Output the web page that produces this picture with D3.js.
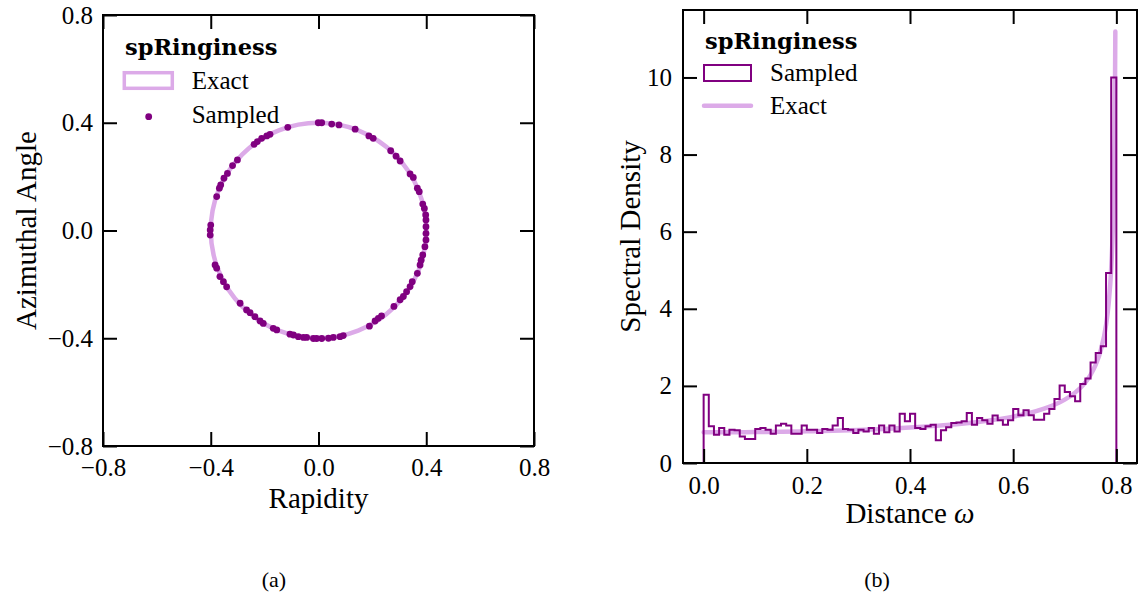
<!DOCTYPE html>
<html><head><meta charset="utf-8">
<script src="https://cdn.jsdelivr.net/npm/d3@7"></script>
<style>
html,body{margin:0;padding:0;background:#fff;}
svg{display:block;}
</style></head><body>
<svg id="chart" width="1138" height="594" font-family="Liberation Serif, Times New Roman, serif"></svg>
<script>
// ---------- data: panel (a) ----------
const rapidity = [-0.001,0.012,0.049,0.076,0.136,0.187,0.203,0.268,0.288,0.303,0.340,0.352,0.367,0.374,0.387,0.393,0.398,0.399,0.399,0.399,0.399,0.395,0.387,0.381,0.377,0.367,0.348,0.340,0.327,0.315,0.303,0.280,0.234,0.222,0.210,0.189,0.092,0.080,0.055,0.037,0.012,-0.007,-0.019,-0.044,-0.056,-0.075,-0.093,-0.106,-0.155,-0.168,-0.205,-0.217,-0.236,-0.254,-0.267,-0.291,-0.341,-0.353,-0.366,-0.378,-0.384,-0.400,-0.402,-0.402,-0.378,-0.368,-0.363,-0.351,-0.338,-0.319,-0.301,-0.239,-0.227,-0.211,-0.192,-0.180,-0.114];
const azimuth = [0.400,0.400,0.395,0.392,0.376,0.351,0.342,0.296,0.276,0.258,0.210,0.197,0.157,0.144,0.098,0.082,0.058,0.039,0.014,-0.011,-0.035,-0.060,-0.091,-0.110,-0.128,-0.159,-0.190,-0.208,-0.227,-0.245,-0.257,-0.282,-0.317,-0.326,-0.336,-0.355,-0.390,-0.394,-0.397,-0.400,-0.401,-0.401,-0.401,-0.397,-0.397,-0.394,-0.388,-0.385,-0.369,-0.363,-0.345,-0.336,-0.320,-0.305,-0.295,-0.270,-0.209,-0.190,-0.171,-0.140,-0.128,0.020,0.002,-0.017,0.126,0.157,0.169,0.194,0.212,0.241,0.262,0.320,0.330,0.342,0.351,0.357,0.383];
const ringRadius = 0.4;
const ticksA = [-0.8,-0.4,0.0,0.4,0.8];

// ---------- data: panel (b) ----------
const histValues = [1.77,0.95,0.73,0.91,0.73,0.86,0.85,0.69,0.62,0.62,
  0.88,0.91,0.86,0.76,0.97,1.02,0.97,0.76,0.76,0.97,
  0.86,0.86,0.78,0.88,0.86,0.97,1.17,0.88,0.86,0.78,
  0.86,0.82,0.91,0.76,0.97,0.80,0.97,0.82,1.28,1.08,
  1.28,0.91,0.88,0.95,0.99,0.59,0.85,0.93,1.04,1.05,
  1.08,1.30,0.99,1.17,1.11,1.02,1.23,1.11,0.99,1.11,
  1.40,1.24,1.37,1.24,1.12,1.12,1.28,1.40,1.66,2.01,
  1.84,1.73,1.60,2.05,2.19,2.61,2.85,3.03,4.93,10.0];
const histStart = 0.0, histBinWidth = 0.01;
const exactOmega   = [0,0.05,0.1,0.15,0.2,0.25,0.3,0.35,0.4,0.45,0.5,0.55,0.6,0.63,0.66,0.68,0.7,0.72,0.74,0.75,0.76,0.77,0.78,0.785,0.79,0.793,0.795,0.7965,0.7975,0.798];
const exactDensity = [0.796,0.797,0.802,0.810,0.822,0.838,0.858,0.885,0.919,0.963,1.019,1.096,1.203,1.291,1.408,1.511,1.644,1.826,2.094,2.287,2.549,2.934,3.581,4.129,5.049,6.029,7.129,8.511,10.07,11.19];
const ticksBx = [0.0,0.2,0.4,0.6,0.8];
const ticksBy = [0,2,4,6,8,10];

// ---------- style ----------
const PURPLE = "#800080", PLUM = "#dcaae8";
const TICK = 14, AXW = 2;
const FS_TICK = 25, FS_LEG = 25, FS_LAB = 29;
const svg = d3.select("#chart");

function frameAxes(g, x, y, w, h, xt, yt, xfmt, yfmt, xpad, ypad){
  const bx = g.append("g").attr("transform",`translate(0,${h})`)
    .call(d3.axisBottom(x).tickValues(xt).tickFormat(xfmt).tickSize(-TICK).tickSizeOuter(0).tickPadding(xpad));
  const tx = g.append("g")
    .call(d3.axisTop(x).tickValues(xt).tickFormat("").tickSize(-TICK).tickSizeOuter(0));
  const ly = g.append("g")
    .call(d3.axisLeft(y).tickValues(yt).tickFormat(yfmt).tickSize(-TICK).tickSizeOuter(0).tickPadding(ypad));
  const ry = g.append("g").attr("transform",`translate(${w},0)`)
    .call(d3.axisRight(y).tickValues(yt).tickFormat("").tickSize(-TICK).tickSizeOuter(0));
  [bx,tx,ly,ry].forEach(a=>{
    a.attr("font-family",null).attr("font-size",null);
    a.select(".domain").remove();
    a.selectAll(".tick line").attr("stroke","#000").attr("stroke-width",AXW);
    a.selectAll(".tick text").attr("font-size",FS_TICK).attr("fill","#000");
  });
  g.append("rect").attr("x",0).attr("y",0).attr("width",w).attr("height",h)
    .attr("fill","none").attr("stroke","#000").attr("stroke-width",AXW);
}

function legendTitle(g, x, y){
  g.append("text").attr("x",x).attr("y",y).attr("font-size",22.5)
    .attr("font-family","DejaVu Serif, serif").attr("font-weight","bold").text("spRinginess");
}

// ---------- panel (a) ----------
{
  const L=103, T=15, W=431, H=431;
  const g = svg.append("g").attr("transform",`translate(${L},${T})`);
  const x = d3.scaleLinear().domain([-0.8,0.8]).range([0,W]);
  const y = d3.scaleLinear().domain([-0.8,0.8]).range([H,0]);
  g.append("ellipse").attr("cx",x(0)).attr("cy",y(0))
    .attr("rx",x(ringRadius)-x(0)).attr("ry",y(0)-y(ringRadius))
    .attr("fill","none").attr("stroke",PLUM).attr("stroke-width",4.5);
  g.selectAll("circle.pt").data(d3.range(rapidity.length)).join("circle")
    .attr("class","pt").attr("cx",i=>x(rapidity[i])).attr("cy",i=>y(azimuth[i]))
    .attr("r",3.4).attr("fill",PURPLE);
  const f = d3.format(".1f");
  frameAxes(g,x,y,W,H,ticksA,ticksA,f,f,12,10);
  // legend
  legendTitle(g,22,40);
  g.append("rect").attr("x",21.3).attr("y",57.7).attr("width",48).attr("height",15.6)
    .attr("fill","none").attr("stroke",PLUM).attr("stroke-width",3.5);
  g.append("text").attr("x",88.7).attr("y",74).attr("font-size",FS_LEG).text("Exact");
  g.append("circle").attr("cx",45.7).attr("cy",101.7).attr("r",3.4).attr("fill",PURPLE);
  g.append("text").attr("x",88.7).attr("y",108).attr("font-size",FS_LEG).text("Sampled");
  // labels
  svg.append("text").attr("x",L+W/2).attr("y",508).attr("text-anchor","middle").attr("font-size",FS_LAB).text("Rapidity");
  svg.append("text").attr("transform",`translate(36,${T+H/2}) rotate(-90)`).attr("text-anchor","middle").attr("font-size",FS_LAB).text("Azimuthal Angle");
  svg.append("text").attr("x",274).attr("y",587).attr("text-anchor","middle").attr("font-size",22).text("(a)");
}

// ---------- panel (b) ----------
{
  const L=683, T=10, W=454, H=453;
  const g = svg.append("g").attr("transform",`translate(${L},${T})`);
  const x = d3.scaleLinear().domain([-0.04,0.84]).range([0,W]);
  const y = d3.scaleLinear().domain([0,11.75]).range([H,0]);
  const line = d3.line().x(i=>x(exactOmega[i])).y(i=>y(exactDensity[i])).curve(d3.curveMonotoneX);
  g.append("path").attr("d",line(d3.range(exactOmega.length)))
    .attr("fill","none").attr("stroke",PLUM).attr("stroke-width",4.5).attr("stroke-linecap","round");
  // step outline
  const pts = [[histStart,0]];
  histValues.forEach((v,i)=>{
    const a = histStart + i*histBinWidth, b = a + histBinWidth;
    pts.push([a,v],[b,v]);
  });
  pts.push([histStart + histValues.length*histBinWidth, 0]);
  g.append("path").attr("d",d3.line().x(d=>x(d[0])).y(d=>y(d[1]))(pts))
    .attr("fill","none").attr("stroke",PURPLE).attr("stroke-width",2).attr("stroke-linejoin","miter");
  frameAxes(g,x,y,W,H,ticksBx,ticksBy,d3.format(".1f"),d3.format("d"),13,11);
  // legend
  legendTitle(g,22,39.3);
  g.append("rect").attr("x",21).attr("y",55).attr("width",47).attr("height",16)
    .attr("fill","none").attr("stroke",PURPLE).attr("stroke-width",2);
  g.append("text").attr("x",87).attr("y",71).attr("font-size",FS_LEG).text("Sampled");
  g.append("line").attr("x1",21).attr("x2",68).attr("y1",95.7).attr("y2",95.7)
    .attr("stroke",PLUM).attr("stroke-width",4.5).attr("stroke-linecap","round");
  g.append("text").attr("x",87).attr("y",104).attr("font-size",FS_LEG).text("Exact");
  // labels
  svg.append("text").attr("x",L+x(0.4)).attr("y",523).attr("text-anchor","middle").attr("font-size",FS_LAB)
    .html('Distance <tspan font-style="italic">ω</tspan>');
  svg.append("text").attr("transform",`translate(640,${T+H/2}) rotate(-90)`).attr("text-anchor","middle").attr("font-size",FS_LAB).text("Spectral Density");
  svg.append("text").attr("x",877).attr("y",587).attr("text-anchor","middle").attr("font-size",22).text("(b)");
}
</script>
</body></html>
